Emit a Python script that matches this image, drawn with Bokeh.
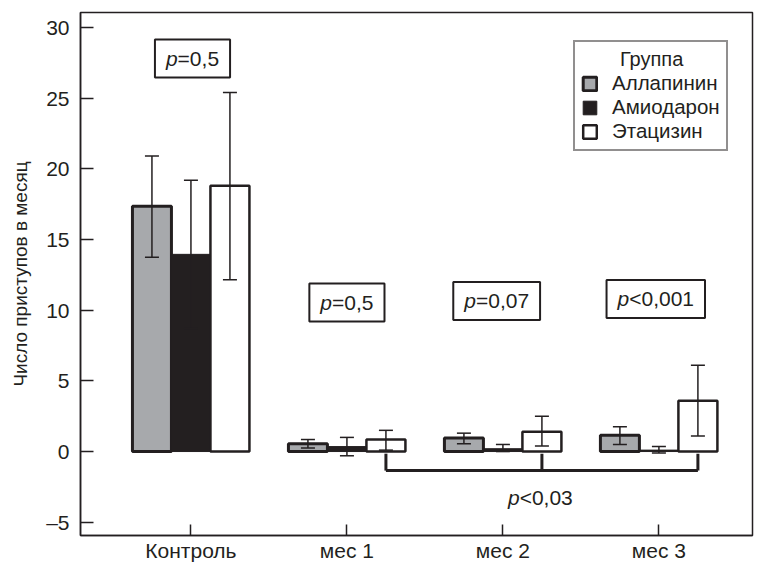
import numpy as np
from bokeh.plotting import figure
from bokeh.models import (ColumnDataSource, Whisker, TeeHead, Range1d, FixedTicker,
                          Legend, LegendItem)
from bokeh.core.properties import value
from bokeh.embed import file_html
from bokeh.resources import INLINE

# ---------------- data ----------------
categories = ["Контроль", "мес 1", "мес 2", "мес 3"]
series_names = ["Аллапинин", "Амиодарон", "Этацизин"]

allapinin = [17.35, 0.55, 0.95, 1.15]
allapinin_lo = [13.75, 0.25, 0.55, 0.5]
allapinin_hi = [20.9, 0.85, 1.3, 1.75]

amiodaron = [13.95, 0.35, 0.2, 0.1]
amiodaron_lo = [8.7, -0.3, 0.0, -0.1]
amiodaron_hi = [19.2, 1.0, 0.5, 0.35]

etacizin = [18.8, 0.85, 1.4, 3.6]
etacizin_lo = [12.15, 0.1, 0.4, 1.1]
etacizin_hi = [25.4, 1.5, 2.5, 6.1]

p_labels = ["p=0,5", "p=0,5", "p=0,07", "p<0,001"]
trend_label = "p<0,03"
trend_groups = ["мес 1", "мес 2", "мес 3"]
y_ticks = [-5, 0, 5, 10, 15, 20, 25, 30]

# ---------------- layout / style ----------------
INK = "#231f20"
FONT = "Liberation Sans"
offsets = [-0.25, 0.0, 0.25]
bar_w = 0.25
fills = ["#a7a9ac", INK, "#ffffff"]
line_ws = [3, 1, 2.5]
p_label_y = [27.8, 10.55, 10.65, 10.8]
p_label_dx = [0.01, 0.0, -0.04, -0.02]
bracket_y = -1.35
bracket_top = -0.15
trend_pos = (2.24, -3.26)
FS = 21

p = figure(width=761, height=564, x_range=Range1d(-0.708, 3.60), y_range=Range1d(-5.94, 31.06),
           output_backend="svg", toolbar_location=None,
           min_border_left=80, min_border_right=9, min_border_top=12, min_border_bottom=29)
p.xgrid.visible = False
p.ygrid.visible = False
p.outline_line_color = INK
p.outline_line_width = 1.5
p.background_fill_color = "white"
p.border_fill_color = "white"

xc = np.arange(len(categories), dtype=float)
series = [(allapinin, allapinin_lo, allapinin_hi),
          (amiodaron, amiodaron_lo, amiodaron_hi),
          (etacizin, etacizin_lo, etacizin_hi)]
renderers = []
for i, (vals, lo, hi) in enumerate(series):
    src = ColumnDataSource(dict(x=xc + offsets[i], top=vals, lo=lo, hi=hi))
    r = p.vbar(x="x", top="top", bottom=0, width=bar_w, source=src,
               fill_color=fills[i], line_color=INK, line_width=line_ws[i])
    renderers.append(r)
    w = Whisker(base="x", upper="hi", lower="lo", source=src, line_color=INK, line_width=1.5,
                level="overlay",
                upper_head=TeeHead(size=14, line_color=INK, line_width=1.5),
                lower_head=TeeHead(size=14, line_color=INK, line_width=1.5))
    p.add_layout(w)

# trend bracket under the Этацизин bars of months
bx = [categories.index(g) + offsets[2] for g in trend_groups]
p.segment(x0=bx, y0=[bracket_top] * len(bx), x1=bx, y1=[bracket_y] * len(bx),
          line_color=INK, line_width=3)
p.segment(x0=[bx[0]], y0=[bracket_y], x1=[bx[-1]], y1=[bracket_y], line_color=INK, line_width=3)

# text helpers (p in italics)
CW = {"p": 0.556, "=": 0.584, "<": 0.584, ",": 0.278}
def tw(s, fs):
    return sum(CW.get(c, 0.556) for c in s) * fs

def ptext(xs, ys, labels, fs, box=False):
    totals = [tw(l, fs) for l in labels]
    offs = [-t / 2 + CW["p"] * fs for t in totals]
    if box:
        p.rect(x=xs, y=ys, width=[t + 22 for t in totals], height=38, width_units="screen",
               height_units="screen", fill_color="white", line_color=INK, line_width=2)
    src = ColumnDataSource(dict(x=xs, y=ys, pp=[l[0] for l in labels],
                                rest=[l[1:] for l in labels], off=offs))
    p.text(x="x", y="y", text="pp", x_offset="off", source=src, text_align="right",
           text_baseline="middle", text_font=value(FONT), text_font_size=f"{fs}px",
           text_font_style="italic", text_color=INK)
    p.text(x="x", y="y", text="rest", x_offset="off", source=src, text_align="left",
           text_baseline="middle", text_font=value(FONT), text_font_size=f"{fs}px",
           text_color=INK)

ptext(list(xc + np.array(p_label_dx)), p_label_y, p_labels, FS, box=True)
ptext([trend_pos[0]], [trend_pos[1]], [trend_label], FS)

# axes
p.xaxis.ticker = FixedTicker(ticks=list(xc))
p.xaxis.major_label_overrides = {float(i): c for i, c in enumerate(categories)}
p.yaxis.ticker = FixedTicker(ticks=y_ticks)
p.yaxis.major_label_overrides = {-5: "\u20135"}
for ax in (p.xaxis[0], p.yaxis[0]):
    ax.axis_line_color = INK
    ax.axis_line_width = 1.5
    ax.major_tick_line_color = INK
    ax.major_tick_line_width = 1.5
    ax.major_tick_out = 0
    ax.minor_tick_line_color = None
    ax.major_label_text_font = FONT
    ax.major_label_text_font_size = f"{FS}px"
    ax.major_label_text_color = INK
p.xaxis.major_tick_in = 11
p.yaxis.major_tick_in = 13
p.xaxis.major_label_standoff = 3
p.yaxis.major_label_standoff = 11
p.yaxis.axis_label = "Число приступов в месяц"
p.yaxis.axis_label_text_font = FONT
p.yaxis.axis_label_text_font_size = "19px"
p.yaxis.axis_label_text_font_style = "normal"
p.yaxis.axis_label_text_color = INK
p.yaxis.axis_label_standoff = 12

legend = Legend(items=[LegendItem(label=n, renderers=[r]) for n, r in zip(series_names, renderers)],
                location=(493, 384), title="\u00a0" * 7 + "Группа",
                border_line_color=INK, border_line_width=2, background_fill_alpha=1,
                label_text_font=FONT, label_text_font_size="20.5px", label_text_color=INK,
                title_text_font=FONT, title_text_font_size="20px", title_text_font_style="normal",
                title_text_color=INK, glyph_width=17, glyph_height=17, label_height=20,
                label_standoff=14, spacing=0, padding=6, margin=0, title_standoff=0)
p.add_layout(legend)

open("out.html", "w").write(file_html(p, INLINE))
